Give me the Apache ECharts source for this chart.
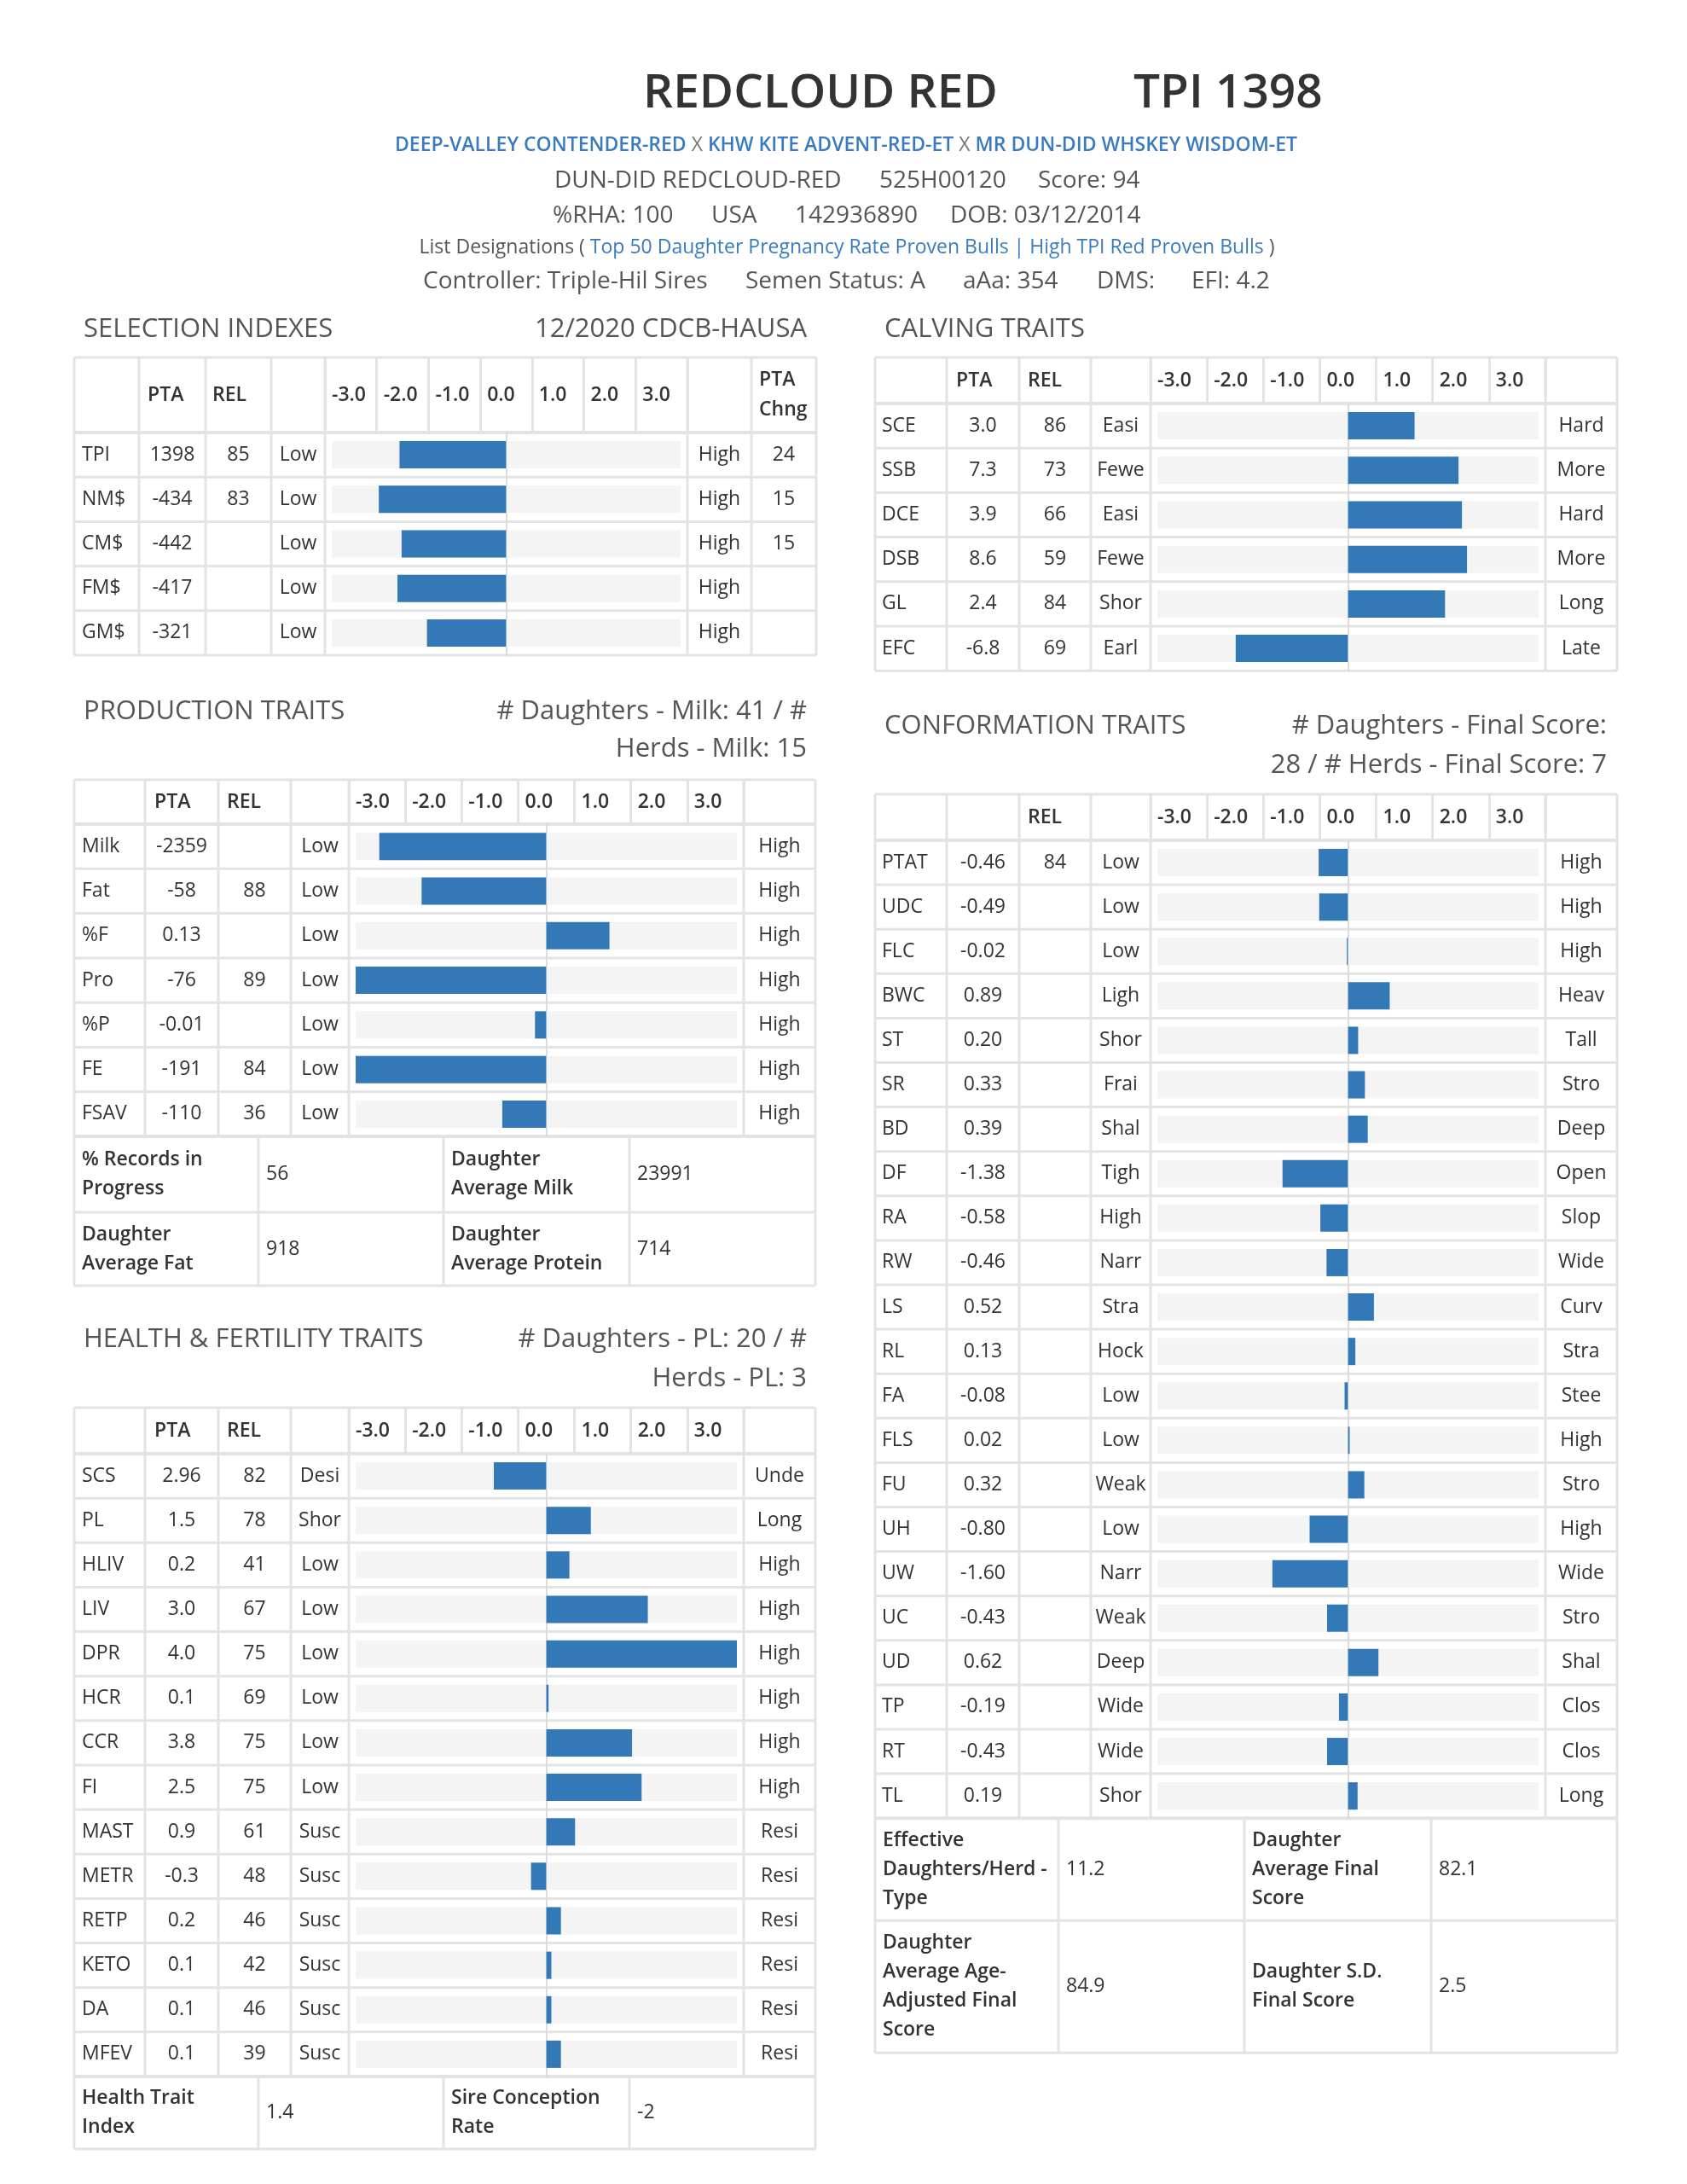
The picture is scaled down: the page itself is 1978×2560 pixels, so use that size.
<!DOCTYPE html>
<html><head><meta charset="utf-8">
<script src="https://cdn.jsdelivr.net/npm/echarts@6.0.0/dist/echarts.min.js"></script>
<style>html,body{margin:0;padding:0;background:#fff;overflow:hidden}#c{width:1978px;height:2560px}</style>
</head><body><div id="c"></div><script>
// ---------- data ----------
const TICKS = ['-3.0','-2.0','-1.0','0.0','1.0','2.0','3.0'];

const selNames = ['TPI','NM$','CM$','FM$','GM$'];
const selPTA   = ['1398','-434','-442','-417','-321'];
const selREL   = ['85','83','','',''];
const selLow   = ['Low','Low','Low','Low','Low'];
const selHigh  = ['High','High','High','High','High'];
const selChng  = ['24','15','15','',''];
const selBars  = [-2.06,-2.46,-2.02,-2.10,-1.53];

const prodNames = ['Milk','Fat','%F','Pro','%P','FE','FSAV'];
const prodPTA   = ['-2359','-58','0.13','-76','-0.01','-191','-110'];
const prodREL   = ['','88','','89','','84','36'];
const prodLow   = ['Low','Low','Low','Low','Low','Low','Low'];
const prodHigh  = ['High','High','High','High','High','High','High'];
const prodBars  = [-2.96,-2.21,1.12,-3.38,-0.20,-3.38,-0.78];
const prodSummary = [['% Records in\nProgress','56','Daughter\nAverage Milk','23991'],
                     ['Daughter\nAverage Fat','918','Daughter\nAverage Protein','714']];

const hlthNames = ['SCS','PL','HLIV','LIV','DPR','HCR','CCR','FI','MAST','METR','RETP','KETO','DA','MFEV'];
const hlthPTA   = ['2.96','1.5','0.2','3.0','4.0','0.1','3.8','2.5','0.9','-0.3','0.2','0.1','0.1','0.1'];
const hlthREL   = ['82','78','41','67','75','69','75','75','61','48','46','42','46','39'];
const hlthLow   = ['Desi','Shor','Low','Low','Low','Low','Low','Low','Susc','Susc','Susc','Susc','Susc','Susc'];
const hlthHigh  = ['Unde','Long','High','High','High','High','High','High','Resi','Resi','Resi','Resi','Resi','Resi'];
const hlthBars  = [-0.93,0.79,0.41,1.80,3.38,0.04,1.52,1.69,0.51,-0.27,0.26,0.09,0.09,0.26];
const hlthSummary = [['Health Trait\nIndex','1.4','Sire Conception\nRate','-2']];

const calvNames = ['SCE','SSB','DCE','DSB','GL','EFC'];
const calvPTA   = ['3.0','7.3','3.9','8.6','2.4','-6.8'];
const calvREL   = ['86','73','66','59','84','69'];
const calvLow   = ['Easi','Fewe','Easi','Fewe','Shor','Earl'];
const calvHigh  = ['Hard','More','Hard','More','Long','Late'];
const calvBars  = [1.18,1.96,2.02,2.11,1.72,-1.99];

const confNames = ['PTAT','UDC','FLC','BWC','ST','SR','BD','DF','RA','RW','LS','RL','FA','FLS','FU','UH','UW','UC','UD','TP','RT','TL'];
const confPTA   = ['-0.46','-0.49','-0.02','0.89','0.20','0.33','0.39','-1.38','-0.58','-0.46','0.52','0.13','-0.08','0.02','0.32','-0.80','-1.60','-0.43','0.62','-0.19','-0.43','0.19'];
const confREL   = ['84','','','','','','','','','','','','','','','','','','','','',''];
const confLow   = ['Low','Low','Low','Ligh','Shor','Frai','Shal','Tigh','High','Narr','Stra','Hock','Low','Low','Weak','Low','Narr','Weak','Deep','Wide','Wide','Shor'];
const confHigh  = ['High','High','High','Heav','Tall','Stro','Deep','Open','Slop','Wide','Curv','Stra','Stee','High','Stro','High','Wide','Stro','Shal','Clos','Clos','Long'];
const confBars  = [-0.52,-0.51,-0.02,0.74,0.18,0.30,0.35,-1.16,-0.49,-0.38,0.46,0.13,-0.06,0.03,0.29,-0.68,-1.34,-0.37,0.54,-0.16,-0.37,0.17];
const confSummary = [['Effective\nDaughters/Herd -\nType','11.2','Daughter\nAverage Final\nScore','82.1'],
                     ['Daughter\nAverage Age-\nAdjusted Final\nScore','84.9','Daughter S.D.\nFinal Score','2.5']];

// ---------- styles ----------
const FONT = '"Open Sans", sans-serif';
const TXT = '#333333', GRAY = '#555555', BLUE = '#3a7bbf';
const BORDER = '#e3e3e3', TRACK = '#f4f4f4', BAR = '#3379b8', ZERO = '#dcdcdc';

const grids = [], xAxes = [], yAxes = [], series = [], graphics = [];

function rect(x, y, w, h, fill) {
  graphics.push({type:'rect', silent:true, shape:{x, y, width:w, height:h}, style:{fill: fill || BORDER}});
}
function text(t, x, y, o) {
  o = o || {};
  const al = o.align || 'left';
  graphics.push({type:'text', silent:true, z:10, style:{
    text:t, x, y, fill:o.color || TXT, fontSize:o.size || 23, fontWeight:o.weight || 400,
    fontFamily:FONT, align:al, textAlign:al, verticalAlign:'middle', textVerticalAlign:'middle',
    lineHeight:o.lh || 34, rich:o.rich
  }});
}

function buildTable(t) {
  const b = 4, cL = t.x[b], cR = t.x[b + 1], cw = (cR - cL) / 7;
  const tl = cL + 8, tr = cR - 8, T = (tr - tl) / 2 / cw;
  const n = t.names.length, bTop = t.headBot, bBot = bTop + n * t.rowH;
  const L = t.x[0], R = t.x[t.x.length - 1];

  // header tick grid
  grids.push({left:cL, top:t.top, width:cR - cL, height:t.headBot - t.top});
  let gi = grids.length - 1;
  xAxes.push({gridIndex:gi, type:'value', min:0, max:7, interval:1, position:'bottom',
    axisLine:{show:false}, axisTick:{show:false},
    splitLine:{show:true, lineStyle:{color:BORDER, width:3}},
    axisLabel:{inside:true, margin:(t.headBot - t.top) / 2, verticalAlign:'middle', align:'left',
      padding:[0, 0, 0, 8], color:TXT, fontSize:23, fontWeight:600, fontFamily:FONT,
      formatter:v => (TICKS[v] !== undefined ? TICKS[v] : '')}});
  yAxes.push({gridIndex:gi, type:'value', show:false});

  // body bar grid
  grids.push({left:tl, top:bTop, width:tr - tl, height:bBot - bTop});
  gi = grids.length - 1;
  xAxes.push({gridIndex:gi, type:'value', min:-T, max:T, show:false});
  const xi = xAxes.length - 1;
  yAxes.push({gridIndex:gi, type:'category', data:t.names, inverse:true,
    axisLine:{show:true, onZero:true, lineStyle:{color:ZERO, width:2}},
    axisTick:{show:false}, axisLabel:{show:false}, splitLine:{show:false}});
  const yi = yAxes.length - 1;
  t.cols.forEach(c => {
    const right = c.pos > tr;
    const margin = right ? c.pos - tr : tl - c.pos;
    yAxes.push({gridIndex:gi, type:'category', data:t.names, inverse:true,
      position:right ? 'right' : 'left', offset:0,
      axisLine:{show:false, onZero:false}, axisTick:{show:false}, splitLine:{show:false},
      axisLabel:{interval:0, margin, align:c.align, verticalAlign:'middle', color:TXT,
        fontSize:23, fontFamily:FONT, formatter:(v, i) => c.data[i]}});
  });
  series.push({type:'bar', xAxisIndex:xi, yAxisIndex:yi, data:t.bars, barWidth:32,
    showBackground:true, backgroundStyle:{color:TRACK}, itemStyle:{color:BAR},
    silent:true, animation:false});

  // borders
  rect(L, t.top - 1.5, R - L, 3);
  rect(L, t.headBot - 2, R - L, 4);
  for (let i = 1; i <= n; i++) rect(L, bTop + i * t.rowH - 1.5, R - L, 3);
  t.x.forEach(x => rect(x - 1.5, t.top, 3, bBot - t.top));

  // header texts
  const hc = (t.top + t.headBot) / 2;
  t.heads.forEach(h => text(h[0], h[1], hc, {weight:600, lh:35}));

  // summary rows
  if (t.sum) {
    let y = bBot;
    t.sum.rows.forEach((r, ri) => {
      const y2 = y + t.sum.h[ri];
      rect(L, y2 - 1.5, R - L, 3);
      r.forEach((c, ci) => text(c, t.sum.x[ci] + 9, (y + y2) / 2, {weight:ci % 2 === 0 ? 600 : 400}));
      y = y2;
    });
    rect(L, bBot - 2, R - L, 4);
    t.sum.x.forEach(x => rect(x - 1.5, bBot, 3, y - bBot));
  }
}

const xL = [87,170,256,341,409,872,956];
const xR = [1026,1110,1195,1279,1349,1812,1896];
const sumL = [87,303,520,738,956];
const sumR = [1026,1241,1459,1678,1896];
const mid = (a, b) => (a + b) / 2;

buildTable({x:[87,163,241,318,381,806,881,957], top:419, headBot:507, rowH:52.2,
  names:selNames, bars:selBars,
  heads:[['PTA',173],['REL',249],['PTA\nChng',890]],
  cols:[{pos:96, align:'left', data:selNames},{pos:202, align:'center', data:selPTA},
        {pos:279.5, align:'center', data:selREL},{pos:349.5, align:'center', data:selLow},
        {pos:843.5, align:'center', data:selHigh},{pos:919, align:'center', data:selChng}]});

buildTable({x:xL, top:914, headBot:966, rowH:52.3, names:prodNames, bars:prodBars,
  heads:[['PTA',181],['REL',266]],
  cols:[{pos:96, align:'left', data:prodNames},{pos:mid(170,256), align:'center', data:prodPTA},
        {pos:mid(256,341), align:'center', data:prodREL},{pos:mid(341,409), align:'center', data:prodLow},
        {pos:mid(872,956), align:'center', data:prodHigh}],
  sum:{x:sumL, h:[89,86], rows:prodSummary}});

buildTable({x:xL, top:1650, headBot:1704, rowH:52.14, names:hlthNames, bars:hlthBars,
  heads:[['PTA',181],['REL',266]],
  cols:[{pos:96, align:'left', data:hlthNames},{pos:mid(170,256), align:'center', data:hlthPTA},
        {pos:mid(256,341), align:'center', data:hlthREL},{pos:mid(341,409), align:'center', data:hlthLow},
        {pos:mid(872,956), align:'center', data:hlthHigh}],
  sum:{x:sumL, h:[85], rows:hlthSummary}});

buildTable({x:xR, top:419, headBot:473, rowH:52.2, names:calvNames, bars:calvBars,
  heads:[['PTA',1121],['REL',1205]],
  cols:[{pos:1034, align:'left', data:calvNames},{pos:mid(1110,1195), align:'center', data:calvPTA},
        {pos:mid(1195,1279), align:'center', data:calvREL},{pos:mid(1279,1349), align:'center', data:calvLow},
        {pos:mid(1812,1896), align:'center', data:calvHigh}]});

buildTable({x:xR, top:931, headBot:985, rowH:52.1, names:confNames, bars:confBars,
  heads:[['REL',1205]],
  cols:[{pos:1034, align:'left', data:confNames},{pos:mid(1110,1195), align:'center', data:confPTA},
        {pos:mid(1195,1279), align:'center', data:confREL},{pos:mid(1279,1349), align:'center', data:confLow},
        {pos:mid(1812,1896), align:'center', data:confHigh}],
  sum:{x:sumR, h:[120,155], rows:confSummary}});

// ---------- page header ----------
text('REDCLOUD RED', 754, 110, {size:55, weight:600});
text('TPI 1398', 1329, 110, {size:55, weight:600});
text('{a|DEEP-VALLEY CONTENDER-RED} {x|X} {a|KHW KITE ADVENT-RED-ET} {x|X} {a|MR DUN-DID WHSKEY WISDOM-ET}',
  992, 170, {align:'center', size:23, color:'#777',
  rich:{a:{fill:BLUE, fontSize:23, fontWeight:600, fontFamily:FONT}, x:{fill:'#777', fontSize:23, fontFamily:FONT}}});
[['DUN-DID REDCLOUD-RED',650],['525H00120',1031],['Score: 94',1217]].forEach(p => text(p[0], p[1], 212, {size:28, color:GRAY}));
[['%RHA: 100',648],['USA',834],['142936890',932],['DOB: 03/12/2014',1114]].forEach(p => text(p[0], p[1], 253, {size:28, color:GRAY}));
text('{g|List Designations ( }{a|Top 50 Daughter Pregnancy Rate Proven Bulls | High TPI Red Proven Bulls}{g| )}',
  993, 290, {align:'center', size:23,
  rich:{g:{fill:GRAY, fontSize:23, fontFamily:FONT}, a:{fill:BLUE, fontSize:23, fontFamily:FONT}}});
[['Controller: Triple-Hil Sires',496],['Semen Status: A',874],['aAa: 354',1129],['DMS:',1286],['EFI: 4.2',1397]]
  .forEach(p => text(p[0], p[1], 330, {size:28, color:GRAY}));

// ---------- section titles ----------
const ST = {size:31, color:GRAY};
const SR = Object.assign({align:'right'}, ST);
text('SELECTION INDEXES', 98, 386, ST);
text('12/2020 CDCB-HAUSA', 946, 386, SR);
text('CALVING TRAITS', 1037, 386, ST);
text('PRODUCTION TRAITS', 98, 834, ST);
text('# Daughters - Milk: 41 / #', 946, 834, SR);
text('Herds - Milk: 15', 946, 878, SR);
text('CONFORMATION TRAITS', 1037, 851, ST);
text('# Daughters - Final Score:', 1884, 851, SR);
text('28 / # Herds - Final Score: 7', 1884, 897, SR);
text('HEALTH & FERTILITY TRAITS', 98, 1570, ST);
text('# Daughters - PL: 20 / #', 946, 1570, SR);
text('Herds - PL: 3', 946, 1616, SR);

const chart = echarts.init(document.getElementById('c'), null, {renderer:'canvas', width:1978, height:2560});
chart.setOption({backgroundColor:'#ffffff', animation:false, grid:grids, xAxis:xAxes, yAxis:yAxes, series, graphic:graphics});
</script></body></html>
